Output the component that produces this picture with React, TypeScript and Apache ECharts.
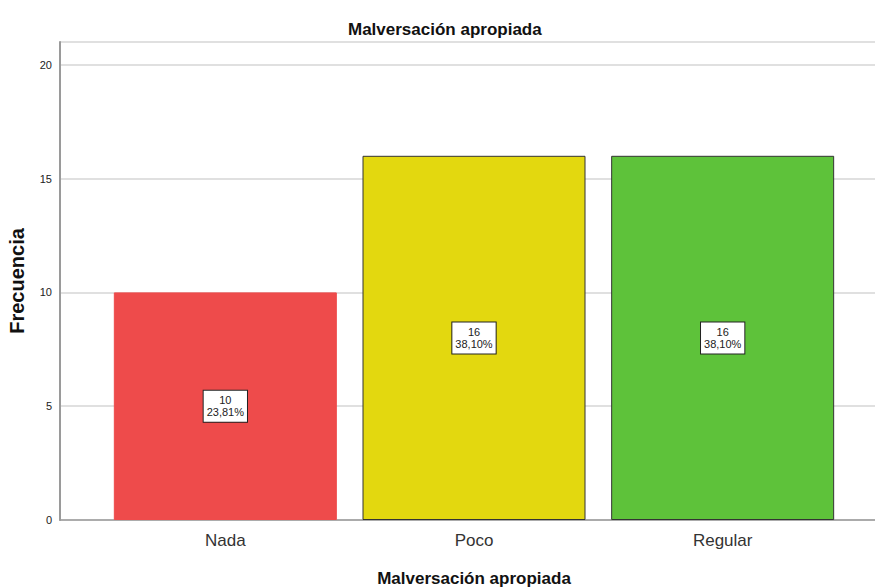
import React, { useEffect, useRef } from "react";
import * as echarts from "echarts";

const categories = ["Nada", "Poco", "Regular"];
const counts = [10, 16, 16];
const percents = ["23,81%", "38,10%", "38,10%"];
const barColors = ["#EE4B4B", "#E3D80F", "#5EC23A"];
const borderColors = ["#EE4B4B", "#333333", "#333333"];
const yTicks = { min: 0, max: 21, interval: 5 };
const titleText = "Malversación apropiada";
const xName = "Malversación apropiada";
const yName = "Frecuencia";

export default function App() {
  const ref = useRef<HTMLDivElement>(null);
  useEffect(() => {
    if (!ref.current) return;
    document.body.style.margin = "0";
    document.body.style.overflow = "hidden";
    const chart = echarts.init(ref.current, null, { renderer: "svg", width: 875, height: 587 });
    const font = "'Liberation Sans', Arial, sans-serif";
    chart.setOption({
      animation: false,
      title: {
        text: titleText,
        left: 343,
        top: 16,
        textStyle: { fontFamily: font, fontSize: 17, fontWeight: "bold", color: "#111" },
      },
      grid: [
        { left: 60, width: 815, top: 42, height: 478, outerBoundsMode: "none", containLabel: false },
        { left: 101, width: 746, top: 42, height: 478, outerBoundsMode: "none", containLabel: false },
      ],
      xAxis: [
        {
          gridIndex: 0,
          type: "value",
          min: 0,
          max: 1,
          axisLine: { show: true, onZero: false, lineStyle: { color: "#9a9a9a", width: 1.5 } },
          axisTick: { show: false },
          axisLabel: { show: false },
          splitLine: { show: false },
        },
        {
          gridIndex: 1,
          type: "category",
          data: categories,
          axisLine: { show: false },
          axisTick: { show: false },
          axisLabel: { fontFamily: font, fontSize: 17, color: "#333", margin: 12 },
          name: xName,
          nameLocation: "middle",
          nameGap: 50,
          nameTextStyle: { fontFamily: font, fontSize: 17, fontWeight: "bold", color: "#111" },
        },
      ],
      yAxis: [
        {
          gridIndex: 0,
          type: "value",
          min: yTicks.min,
          max: yTicks.max,
          interval: yTicks.interval,
          axisLine: { show: true, lineStyle: { color: "#9a9a9a", width: 2 } },
          axisTick: { show: false },
          axisLabel: { fontFamily: font, fontSize: 11, color: "#222", margin: 8, showMaxLabel: false },
          splitLine: { show: true, lineStyle: { color: "#d6d6d6", width: 1.5 } },
          name: yName,
          nameLocation: "middle",
          nameGap: 33,
          nameTextStyle: { fontFamily: font, fontSize: 20, fontWeight: "bold", color: "#111" },
        },
        {
          gridIndex: 1,
          type: "value",
          min: yTicks.min,
          max: yTicks.max,
          interval: yTicks.interval,
          show: false,
          splitLine: { show: false },
        },
      ],
      series: [
        {
          type: "bar",
          xAxisIndex: 1,
          yAxisIndex: 1,
          barWidth: 223,
          z: 3,
          data: counts.map((v, i) => ({
            value: v,
            itemStyle: { color: barColors[i], borderColor: borderColors[i], borderWidth: 1 },
          })),
          label: {
            show: true,
            position: "inside",
            formatter: (p: any) => `${counts[p.dataIndex]}\n${percents[p.dataIndex]}`,
            fontFamily: font,
            fontSize: 11,
            lineHeight: 12,
            color: "#222",
            backgroundColor: "#fff",
            borderColor: "#222",
            borderWidth: 1,
            padding: [4, 3, 3, 3],
          },
        },
      ],
    });
    return () => chart.dispose();
  }, []);
  return <div ref={ref} style={{ width: 875, height: 587 }} />;
}
